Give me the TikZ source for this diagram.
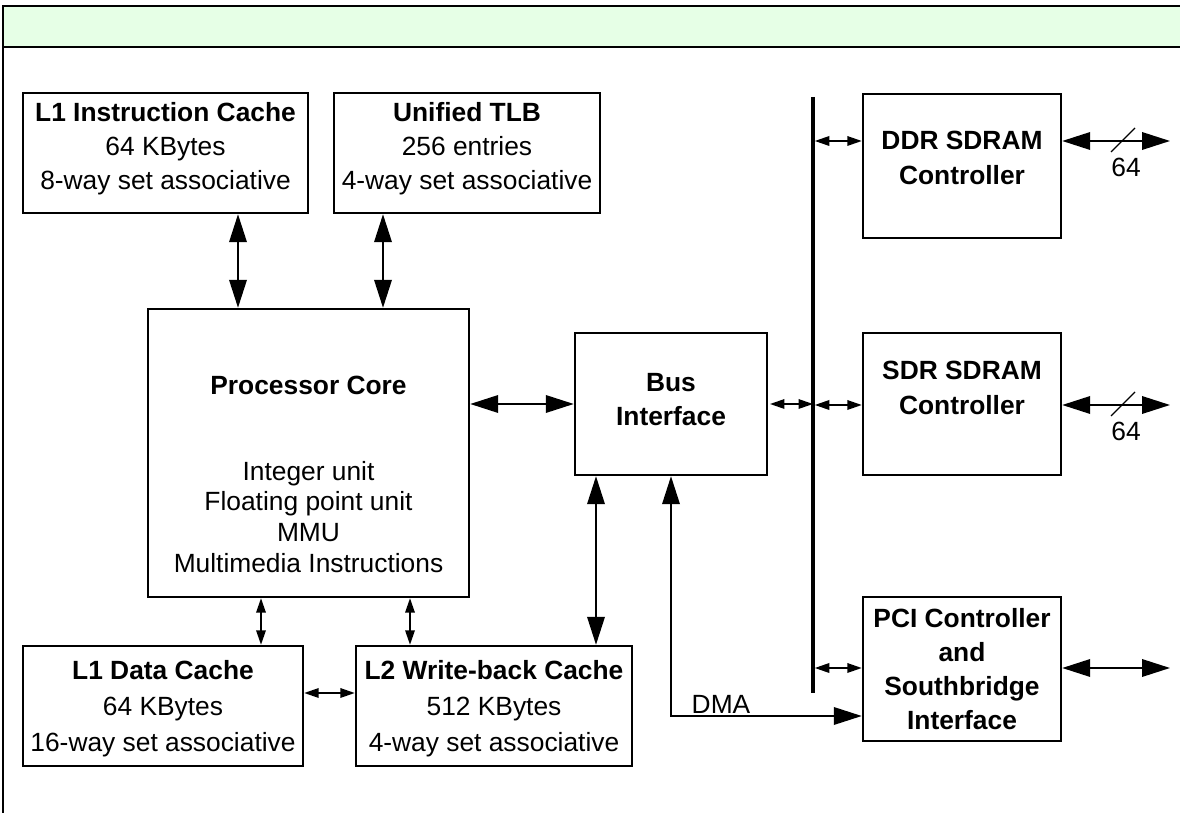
\documentclass[tikz,border=0pt]{standalone}
\usepackage{fontspec}
\setmainfont{Liberation Sans}
\usetikzlibrary{arrows.meta}
\definecolor{bandgreen}{HTML}{E6FFE6}
\tikzset{
  blk/.style={draw, line width=1.4pt, inner sep=0pt, align=center, font=\fontsize{15}{20.5}\selectfont},
  txt/.style={align=center, inner sep=0pt, font=\fontsize{15}{20}\selectfont},
  bigarrow/.style={line width=1.1pt, {Triangle[length=0.56cm,width=0.35cm]}-{Triangle[length=0.56cm,width=0.35cm]}},
  smallarrow/.style={line width=1pt, {Triangle[length=0.29cm,width=0.19cm]}-{Triangle[length=0.29cm,width=0.19cm]}},
}
\begin{document}
\begin{tikzpicture}[x=0.02cm, y=-0.02cm]
  \useasboundingbox (0,0) rectangle (1180,813);
  \fill[bandgreen] (3,6) rectangle (1180,47);
  \draw[line width=1.4pt] (3,813) -- (3,6) -- (1180,6);
  \draw[line width=1.4pt] (3,47) -- (1180,47);

  % cache and tlb blocks
  \node[blk, minimum width=5.7cm, minimum height=2.4cm] (l1i) at (165.5,153) {};
  \node[txt, font=\fontsize{15}{19.3}\selectfont] (l1itext) at (165.5,149)
    {\textbf{L1 Instruction Cache}\\64 KBytes\\8-way set associative};
  \node[blk, minimum width=5.32cm, minimum height=2.4cm] (tlb) at (467,153) {};
  \node[txt, font=\fontsize{15}{19.3}\selectfont] (tlbtext) at (467,149)
    {\textbf{Unified TLB}\\256 entries\\4-way set associative};
  \node[blk, minimum width=5.6cm, minimum height=2.4cm] (l1d) at (163,706) {};
  \node[txt, font=\fontsize{15}{20.5}\selectfont] (l1dtext) at (163,709)
    {\textbf{L1 Data Cache}\\64 KBytes\\16-way set associative};
  \node[blk, minimum width=5.52cm, minimum height=2.4cm] (l2) at (494,706) {};
  \node[txt, font=\fontsize{15}{20.5}\selectfont] (l2text) at (494,709)
    {\textbf{L2 Write-back Cache}\\512 KBytes\\4-way set associative};

  % core and bus interface
  \node[blk, minimum width=6.42cm, minimum height=5.76cm] (core) at (308.5,453) {};
  \node[txt, font=\bfseries\fontsize{15}{20}\selectfont] (coretitle) at (308.5,385) {Processor Core};
  \node[txt, font=\fontsize{15}{17.6}\selectfont] (coreunits) at (308.5,517)
    {Integer unit\\Floating point unit\\MMU\\Multimedia Instructions};
  \node[blk, minimum width=3.84cm, minimum height=2.84cm] (bus) at (671,404) {};
  \node[txt, font=\bfseries\fontsize{15}{19.3}\selectfont] (bustext) at (671,400) {Bus\\Interface};

  % controllers
  \node[blk, minimum width=3.96cm, minimum height=2.88cm] (ddr) at (962,166) {};
  \node[txt, font=\bfseries\fontsize{15}{20}\selectfont] (ddrtext) at (962,158) {DDR SDRAM\\Controller};
  \node[blk, minimum width=3.96cm, minimum height=2.84cm] (sdr) at (962,404) {};
  \node[txt, font=\bfseries\fontsize{15}{20}\selectfont] (sdrtext) at (962,388) {SDR SDRAM\\Controller};
  \node[blk, minimum width=3.96cm, minimum height=2.88cm, font=\bfseries\fontsize{15}{19.3}\selectfont] (pci) at (962,669)
    {PCI Controller\\and\\Southbridge\\Interface};

  % bus line and helper points
  \coordinate (bustop) at (813,97);
  \coordinate (busbot) at (813,693);
  \draw[line width=1.8pt] (bustop) -- (busbot);
  \coordinate (ddrout) at (1170,141);
  \coordinate (sdrout) at (1170,405);
  \coordinate (pciout) at (1170,668);
  \coordinate (ax1) at (238,0);
  \coordinate (ax2) at (383,0);
  \coordinate (ax3) at (261,0);
  \coordinate (ax4) at (410,0);
  \coordinate (ax5) at (596,0);
  \coordinate (ax6) at (0,693);
  \coordinate (dma) at (671,716);

  \draw[bigarrow] (l1i.south -| ax1) -- (core.north -| ax1);
  \draw[bigarrow] (tlb.south -| ax2) -- (core.north -| ax2);
  \draw[bigarrow] (core.east |- bus.west) -- (bus.west);
  \draw[bigarrow] (bus.south -| ax5) -- (l2.north -| ax5);
  \draw[smallarrow] (core.south -| ax3) -- (l1d.north -| ax3);
  \draw[smallarrow] (core.south -| ax4) -- (l2.north -| ax4);
  \draw[smallarrow] (l1d.east |- ax6) -- (l2.west |- ax6);
  \draw[bigarrow] (bus.south -| dma) -- (dma) -- (dma -| pci.west);
  \node[txt, font=\fontsize{15}{16}\selectfont] (dmalabel) at (721,704) {DMA};

  \draw[smallarrow, shorten <=1pt] (bus.east) -- (bus.east -| bustop);
  \draw[smallarrow, shorten <=1pt] (ddrout -| bustop) -- (ddrout -| ddr.west);
  \draw[smallarrow, shorten <=1pt] (sdrout -| bustop) -- (sdrout -| sdr.west);
  \draw[smallarrow, shorten <=1pt] (pciout -| bustop) -- (pciout -| pci.west);

  \draw[bigarrow] (ddrout -| ddr.east) -- (ddrout);
  \draw[line width=0.7pt] ([shift={(-59,11)}]ddrout) -- ([shift={(-35,-13)}]ddrout);
  \node[txt, font=\fontsize{15}{16}\selectfont] (ddrwidth) at ([shift={(-44,26)}]ddrout) {64};
  \draw[bigarrow] (sdrout -| sdr.east) -- (sdrout);
  \draw[line width=0.7pt] ([shift={(-59,11)}]sdrout) -- ([shift={(-35,-13)}]sdrout);
  \node[txt, font=\fontsize{15}{16}\selectfont] (sdrwidth) at ([shift={(-44,26)}]sdrout) {64};
  \draw[bigarrow] (pciout -| pci.east) -- (pciout);
\end{tikzpicture}
\end{document}
